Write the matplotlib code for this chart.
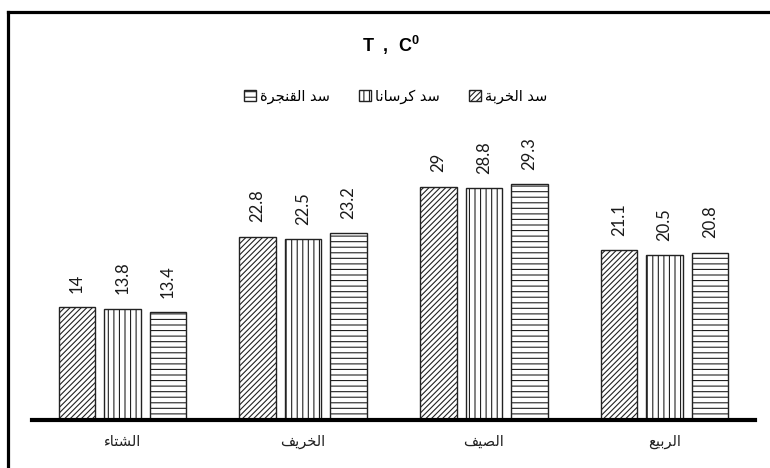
import matplotlib
matplotlib.use("Agg")
import matplotlib.pyplot as plt
from matplotlib.lines import Line2D
import numpy as np

# ---------------- data ----------------
categories = ["الشتاء", "الخريف", "الصيف", "الربيع"]
series_names = ["سد الخربة", "سد كرسانا", "سد القنجرة"]
kharba = [14, 22.8, 29, 21.1]
karsana = [13.8, 22.5, 28.8, 20.5]
qanjara = [13.4, 23.2, 29.3, 20.8]
title_text = r"T  ,  C$^{\mathbf{0}}$"

# ------------- minimal Arabic shaping (matplotlib has no bidi/shaping) -------------
FORMS = {
    "ا": (0xFE8D, 0xFE8E, None, None),
    "ء": (0xFE80, None, None, None),
    "ب": (0xFE8F, 0xFE90, 0xFE91, 0xFE92),
    "ة": (0xFE93, 0xFE94, None, None),
    "ت": (0xFE95, 0xFE96, 0xFE97, 0xFE98),
    "ج": (0xFE9D, 0xFE9E, 0xFE9F, 0xFEA0),
    "خ": (0xFEA5, 0xFEA6, 0xFEA7, 0xFEA8),
    "د": (0xFEA9, 0xFEAA, None, None),
    "ر": (0xFEAD, 0xFEAE, None, None),
    "س": (0xFEB1, 0xFEB2, 0xFEB3, 0xFEB4),
    "ش": (0xFEB5, 0xFEB6, 0xFEB7, 0xFEB8),
    "ص": (0xFEB9, 0xFEBA, 0xFEBB, 0xFEBC),
    "ع": (0xFEC9, 0xFECA, 0xFECB, 0xFECC),
    "ف": (0xFED1, 0xFED2, 0xFED3, 0xFED4),
    "ق": (0xFED5, 0xFED6, 0xFED7, 0xFED8),
    "ك": (0xFED9, 0xFEDA, 0xFEDB, 0xFEDC),
    "ل": (0xFEDD, 0xFEDE, 0xFEDF, 0xFEE0),
    "ن": (0xFEE5, 0xFEE6, 0xFEE7, 0xFEE8),
    "ي": (0xFEF1, 0xFEF2, 0xFEF3, 0xFEF4),
}


def _dual(c):
    return c in FORMS and FORMS[c][2] is not None


def _joins(c):
    return c in FORMS and FORMS[c][1] is not None


def shape(s):
    out = []
    n = len(s)
    for i, c in enumerate(s):
        if c not in FORMS:
            out.append(c)
            continue
        prev_c = s[i - 1] if i > 0 else ""
        next_c = s[i + 1] if i < n - 1 else ""
        jp = _dual(prev_c) and _joins(c)
        jn = _dual(c) and _joins(next_c)
        iso, fin, ini, med = FORMS[c]
        if jp and jn:
            cp = med
        elif jp:
            cp = fin
        elif jn:
            cp = ini
        else:
            cp = iso
        out.append(chr(cp))
    return "".join(out)[::-1]


# ---------------- style ----------------
plt.rcParams["font.family"] = ["Liberation Sans", "DejaVu Sans"]
plt.rcParams["mathtext.fontset"] = "custom"
plt.rcParams["mathtext.rm"] = "Liberation Sans"
plt.rcParams["mathtext.bf"] = "Liberation Sans:bold"
plt.rcParams["hatch.linewidth"] = 0.8
plt.rcParams["hatch.color"] = "#222222"

fig = plt.figure(figsize=(7.7, 4.68), dpi=100)
ax = fig.add_axes([32 / 770, (468 - 420) / 468, 723 / 770, 0.6013])

x = np.arange(len(categories))
width = 0.202
step = 0.252
hatches = ["//////", "|||", "---"]
all_series = [kharba, karsana, qanjara]
containers = []
for k, (vals, h, name) in enumerate(zip(all_series, hatches, series_names)):
    bc = ax.bar(x + (k - 1) * step, vals, width, facecolor="white",
                edgecolor="#222222", linewidth=1.0, hatch=h, label=shape(name))
    containers.append(bc)
    for xi, v in zip(x + (k - 1) * step, vals):
        ax.annotate(f"{v:g}", (xi, v), xytext=(0, 10.5), textcoords="offset points",
                    rotation=90, ha="center", va="bottom", fontsize=12,
                    family=["Lato", "DejaVu Sans"], color="#1a1a1a")

ax.set_xlim(-0.5, len(categories) - 0.5)
ax.set_ylim(0, 35)
ax.set_yticks([])
ax.set_xticks(x)
ax.set_xticklabels([shape(c) for c in categories], fontsize=10.5,
                   family=["DejaVu Sans"], color="#222222")
ax.tick_params(axis="x", length=0, pad=10)
for sp in ["top", "left", "right"]:
    ax.spines[sp].set_visible(False)
ax.spines["bottom"].set_linewidth(3.0)
ax.spines["bottom"].set_color("black")

# legend (right-to-left order)
handles = containers[::-1]
labels = [shape(n) for n in series_names][::-1]
fig.legend(handles, labels, loc="center", bbox_to_anchor=(0.514, 0.795), ncol=3,
           frameon=False, handlelength=0.8, handleheight=0.8, handletextpad=0.3,
           columnspacing=2.0, prop={"family": ["DejaVu Sans"], "size": 10.5})

fig.text(0.508, 1 - 45 / 468, title_text, ha="center", va="center",
         fontsize=13, fontweight="bold", color="black")

# outer border (cropped on right and bottom)
fig.add_artist(Line2D([8 / 770, 8 / 770], [0, 1 - 11.5 / 468], transform=fig.transFigure,
                      color="black", linewidth=2.3, solid_capstyle="projecting"))
fig.add_artist(Line2D([8 / 770, 1.0], [1 - 11.5 / 468, 1 - 11.5 / 468], transform=fig.transFigure,
                      color="black", linewidth=2.3, solid_capstyle="projecting"))

fig.savefig("out.png", dpi=100)
